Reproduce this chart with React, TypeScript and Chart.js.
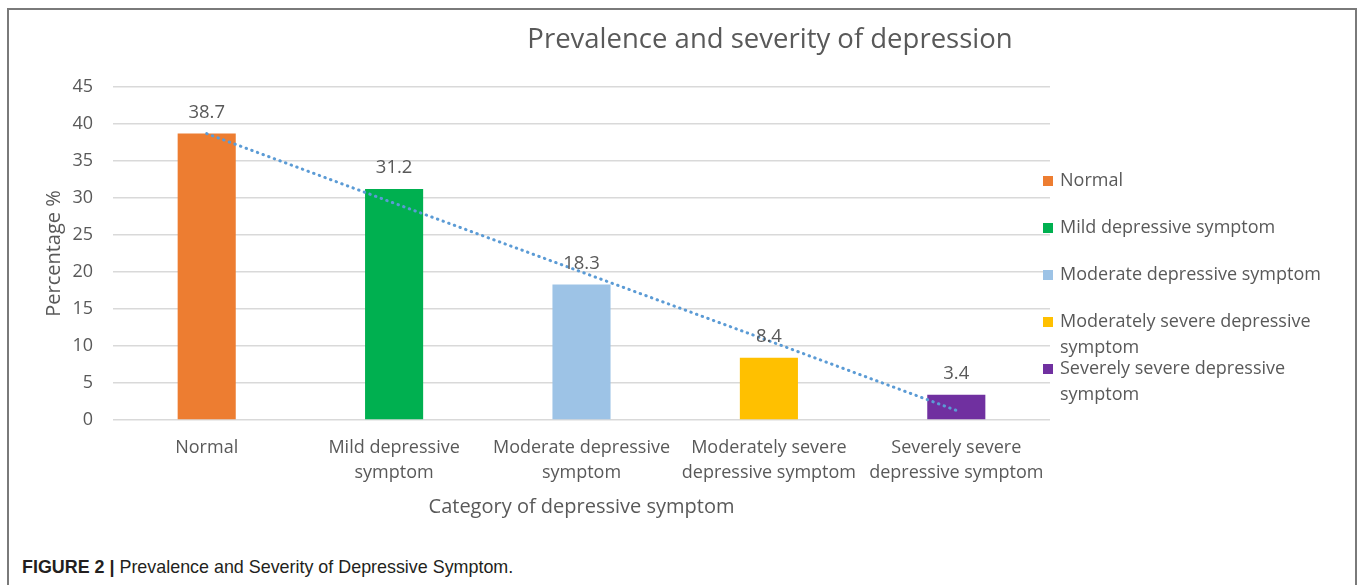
import React, { useEffect, useRef } from "react";
import { Chart, registerables } from "chart.js";

Chart.register(...registerables);

// ---- data ----
const chartTitle = "Prevalence and severity of depression";
const xAxisTitle = "Category of depressive symptom";
const yAxisTitle = "Percentage %";
const categories = [
  "Normal",
  "Mild depressive symptom",
  "Moderate depressive symptom",
  "Moderately severe depressive symptom",
  "Severely severe depressive symptom",
];
const axisLabelLines = [
  ["Normal"],
  ["Mild depressive", "symptom"],
  ["Moderate depressive", "symptom"],
  ["Moderately severe", "depressive symptom"],
  ["Severely severe", "depressive symptom"],
];
const legendLabelLines = [
  ["Normal"],
  ["Mild depressive symptom"],
  ["Moderate depressive symptom"],
  ["Moderately severe depressive", "symptom"],
  ["Severely severe depressive", "symptom"],
];
const prevalence = [38.7, 31.2, 18.3, 8.4, 3.4];
const trendValues = [38.7, 29.3, 20.0, 10.7, 1.3];
const barColors = ["#ED7D31", "#00B050", "#9DC3E6", "#FFC000", "#7030A0"];
const yMin = 0;
const yMax = 45;
const yStep = 5;

const FONT = "'Open Sans', 'Noto Sans', sans-serif";
const TEXT = "#595959";

const overlayPlugin = {
  id: "overlay",
  afterDatasetsDraw(chart: any) {
    const ctx = chart.ctx;
    const meta = chart.getDatasetMeta(1);
    ctx.save();
    ctx.font = `18.5px ${FONT}`;
    ctx.fillStyle = TEXT;
    ctx.textAlign = "center";
    ctx.textBaseline = "middle";
    meta.data.forEach((bar: any, i: number) => {
      ctx.fillText(String(prevalence[i]), bar.x, bar.y - 21);
    });
    ctx.restore();
  },
  afterDraw(chart: any) {
    const ctx = chart.ctx;
    const area = chart.chartArea;
    ctx.save();
    // title
    ctx.font = `27.5px ${FONT}`;
    ctx.fillStyle = TEXT;
    ctx.textAlign = "center";
    ctx.textBaseline = "middle";
    ctx.fillText(chartTitle, 770, 40);
    // legend
    ctx.font = `18px ${FONT}`;
    ctx.textAlign = "left";
    let y = 181;
    legendLabelLines.forEach((lines, i) => {
      ctx.fillStyle = barColors[i];
      ctx.fillRect(area.right - 7, y - 5, 10, 10);
      ctx.fillStyle = TEXT;
      lines.forEach((line, j) => {
        ctx.fillText(line, area.right + 10, y + j * 25.5);
      });
      y += 47;
    });
    ctx.restore();
  },
};

export default function App() {
  const ref = useRef<HTMLCanvasElement>(null);
  useEffect(() => {
    const chart = new Chart(ref.current!, {
      type: "bar",
      data: {
        labels: axisLabelLines,
        datasets: [
          {
            type: "line",
            label: "Linear trend",
            data: trendValues,
            borderColor: "#5B9BD5",
            borderWidth: 3,
            borderDash: [0.5, 5.5],
            borderCapStyle: "round",
            pointRadius: 0,
            fill: false,
            tension: 0,
            order: 0,
          } as any,
          {
            type: "bar",
            label: "Prevalence",
            data: prevalence,
            backgroundColor: barColors,
            barPercentage: 0.31,
            categoryPercentage: 1,
            order: 1,
          } as any,
        ],
      },
      options: {
        responsive: false,
        animation: false,
        layout: { padding: { left: 42, right: 308, top: 87, bottom: 11 } },
        plugins: {
          legend: { display: false },
          tooltip: { enabled: false },
          title: { display: false },
        },
        scales: {
          x: {
            grid: { display: false, drawTicks: false },
            border: { display: false },
            afterFit: (scale: any) => {
              scale.height = 99;
            },
            ticks: {
              color: TEXT,
              font: { family: FONT, size: 18, lineHeight: 25 / 18 },
              padding: 15.5,
              maxRotation: 0,
              autoSkip: false,
            },
            title: {
              display: true,
              text: xAxisTitle,
              color: TEXT,
              font: { family: FONT, size: 20, lineHeight: 1.2 },
              padding: { top: 9.5, bottom: 0 },
            },
          },
          y: {
            min: yMin,
            max: yMax,
            afterFit: (scale: any) => {
              scale.width = 71;
            },
            ticks: {
              stepSize: yStep,
              padding: 20,
              color: TEXT,
              font: { family: FONT, size: 18 },
            },
            grid: { color: "#D9D9D9", lineWidth: 1.5, drawTicks: false },
            border: { display: false },
            title: {
              display: true,
              text: yAxisTitle,
              color: TEXT,
              font: { family: FONT, size: 20, lineHeight: 1.2 },
              padding: { top: 0, bottom: 8 },
            },
          },
        },
      } as any,
      plugins: [overlayPlugin],
    });
    return () => chart.destroy();
  }, []);

  return (
    <>
      <div
        style={{
          position: "absolute",
          left: 7,
          top: 8,
          width: 1350,
          height: 577,
          boxSizing: "border-box",
          borderTop: "2px solid #7a7a7a",
          borderLeft: "2px solid #7a7a7a",
          borderRight: "2px solid #7a7a7a",
        }}
      />
      <canvas
        ref={ref}
        width={1358}
        height={530}
        aria-label={categories.join(", ")}
        style={{ position: "absolute", left: 0, top: 0, width: 1358, height: 530 }}
      />
      <div
        style={{
          position: "absolute",
          left: 22,
          top: 557,
          fontFamily: "'Liberation Sans', Arial, sans-serif",
          fontSize: 17.9,
          color: "#231f20",
          whiteSpace: "nowrap",
        }}
      >
        <b>FIGURE 2 |</b> Prevalence and Severity of Depressive Symptom.
      </div>
    </>
  );
}
